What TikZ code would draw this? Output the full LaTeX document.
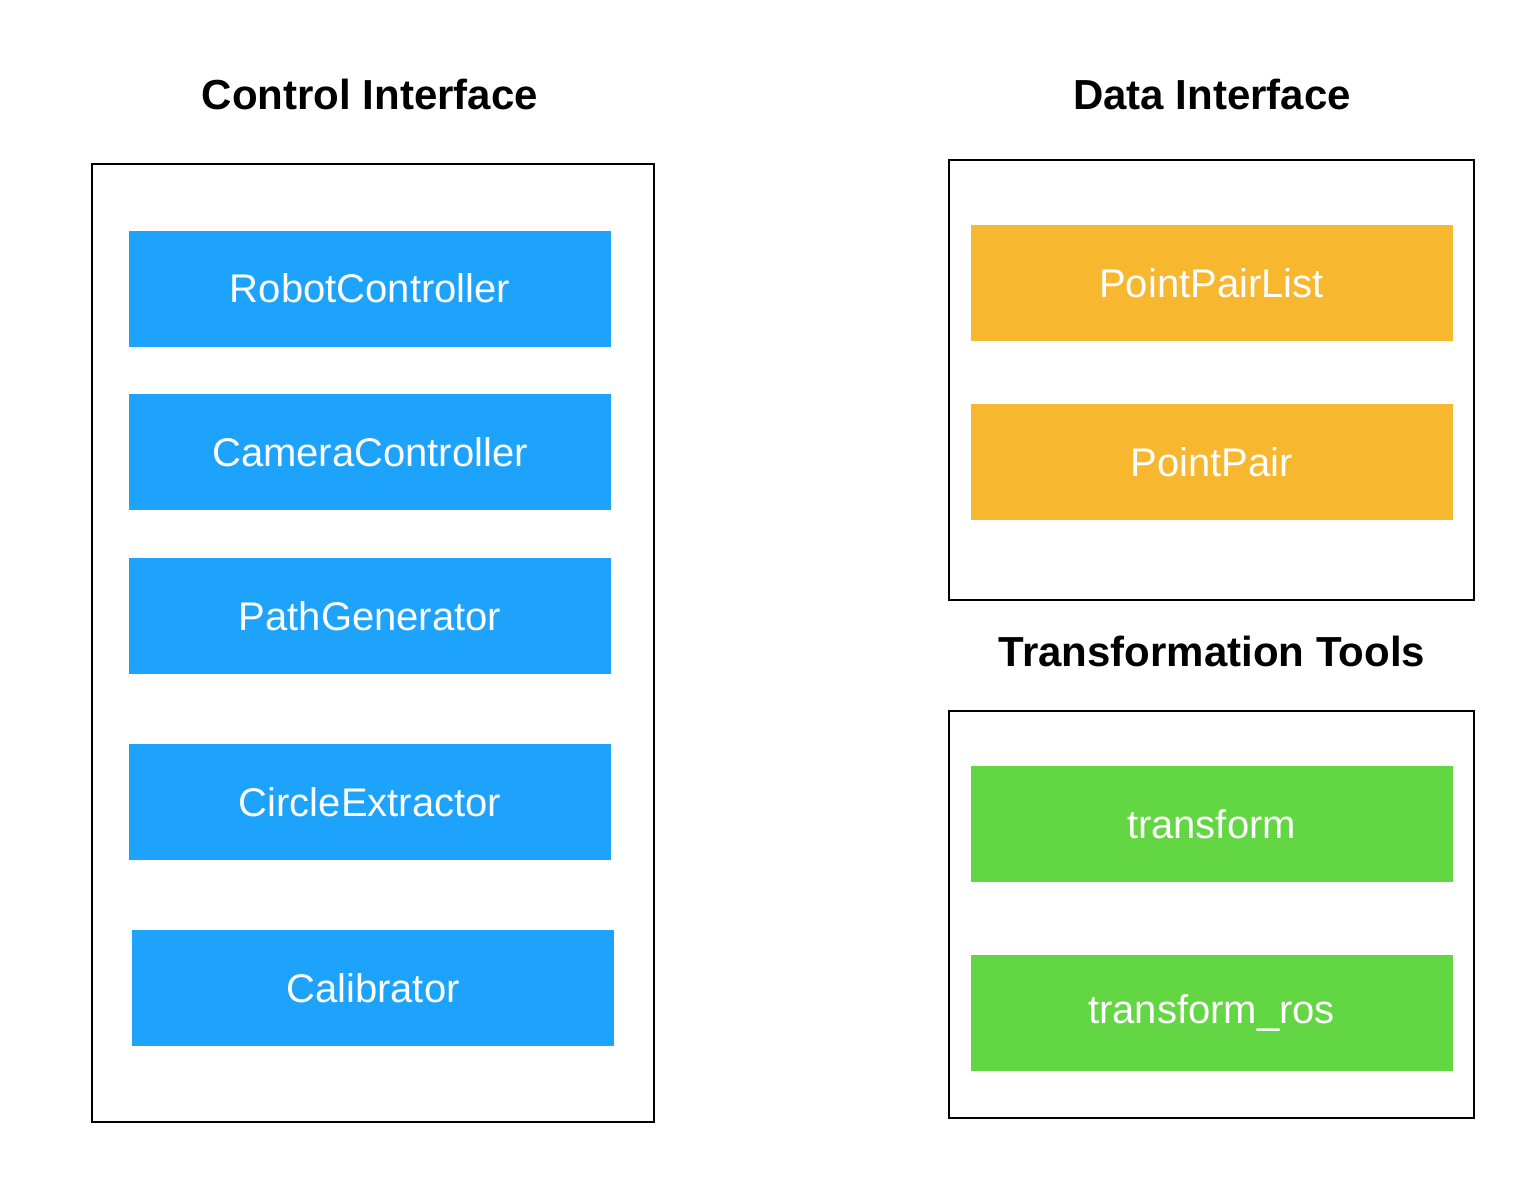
\documentclass[tikz,border=0pt]{standalone}
\usepackage{fontspec}
\setmainfont{Liberation Sans}
\definecolor{ctlblue}{RGB}{29,163,252}
\definecolor{dataorange}{RGB}{247,183,46}
\definecolor{toolgreen}{RGB}{99,214,68}
\tikzset{
  title/.style={font=\fontsize{21}{25}\selectfont\bfseries},
  frame/.style={draw=black, line width=0.8pt},
  module/.style={text=white, font=\fontsize{20}{24}\selectfont,
    minimum width=241pt, minimum height=58pt, inner sep=0pt},
}
\begin{document}
\begin{tikzpicture}[x=0.5pt, y=-0.5pt]
  \useasboundingbox (0,0) rectangle (1536,1180);
  % titles
  \node[title] (ctltitle) at (370,94) {Control Interface};
  \node[title] (datatitle) at (1212,94) {Data Interface};
  \node[title] (tooltitle) at (1212,651) {Transformation Tools};
  % frames
  \draw[frame] (92,164) rectangle (654,1122);
  \draw[frame] (949,160) rectangle (1474,600);
  \draw[frame] (949,711) rectangle (1474,1118);
  % control modules
  \begin{scope}[every node/.style={module, fill=ctlblue}]
    \node (robot) at (370,288.5) {RobotController};
    \node (camera) at (370,452) {CameraController};
    \node (path) at (370,616) {PathGenerator};
    \node (circle) at (370,802) {CircleExtractor};
    \node (calib) at (373,988) {Calibrator};
  \end{scope}
  % data modules
  \begin{scope}[every node/.style={module, fill=dataorange}]
    \node (pairlist) at (1211.5,283) {PointPairList};
    \node (pair) at (1211.5,462) {PointPair};
  \end{scope}
  % transformation modules
  \begin{scope}[every node/.style={module, fill=toolgreen}]
    \node (tf) at (1211.5,824) {transform};
    \node (tfros) at (1211.5,1013) {transform\_ros};
  \end{scope}
\end{tikzpicture}
\end{document}
